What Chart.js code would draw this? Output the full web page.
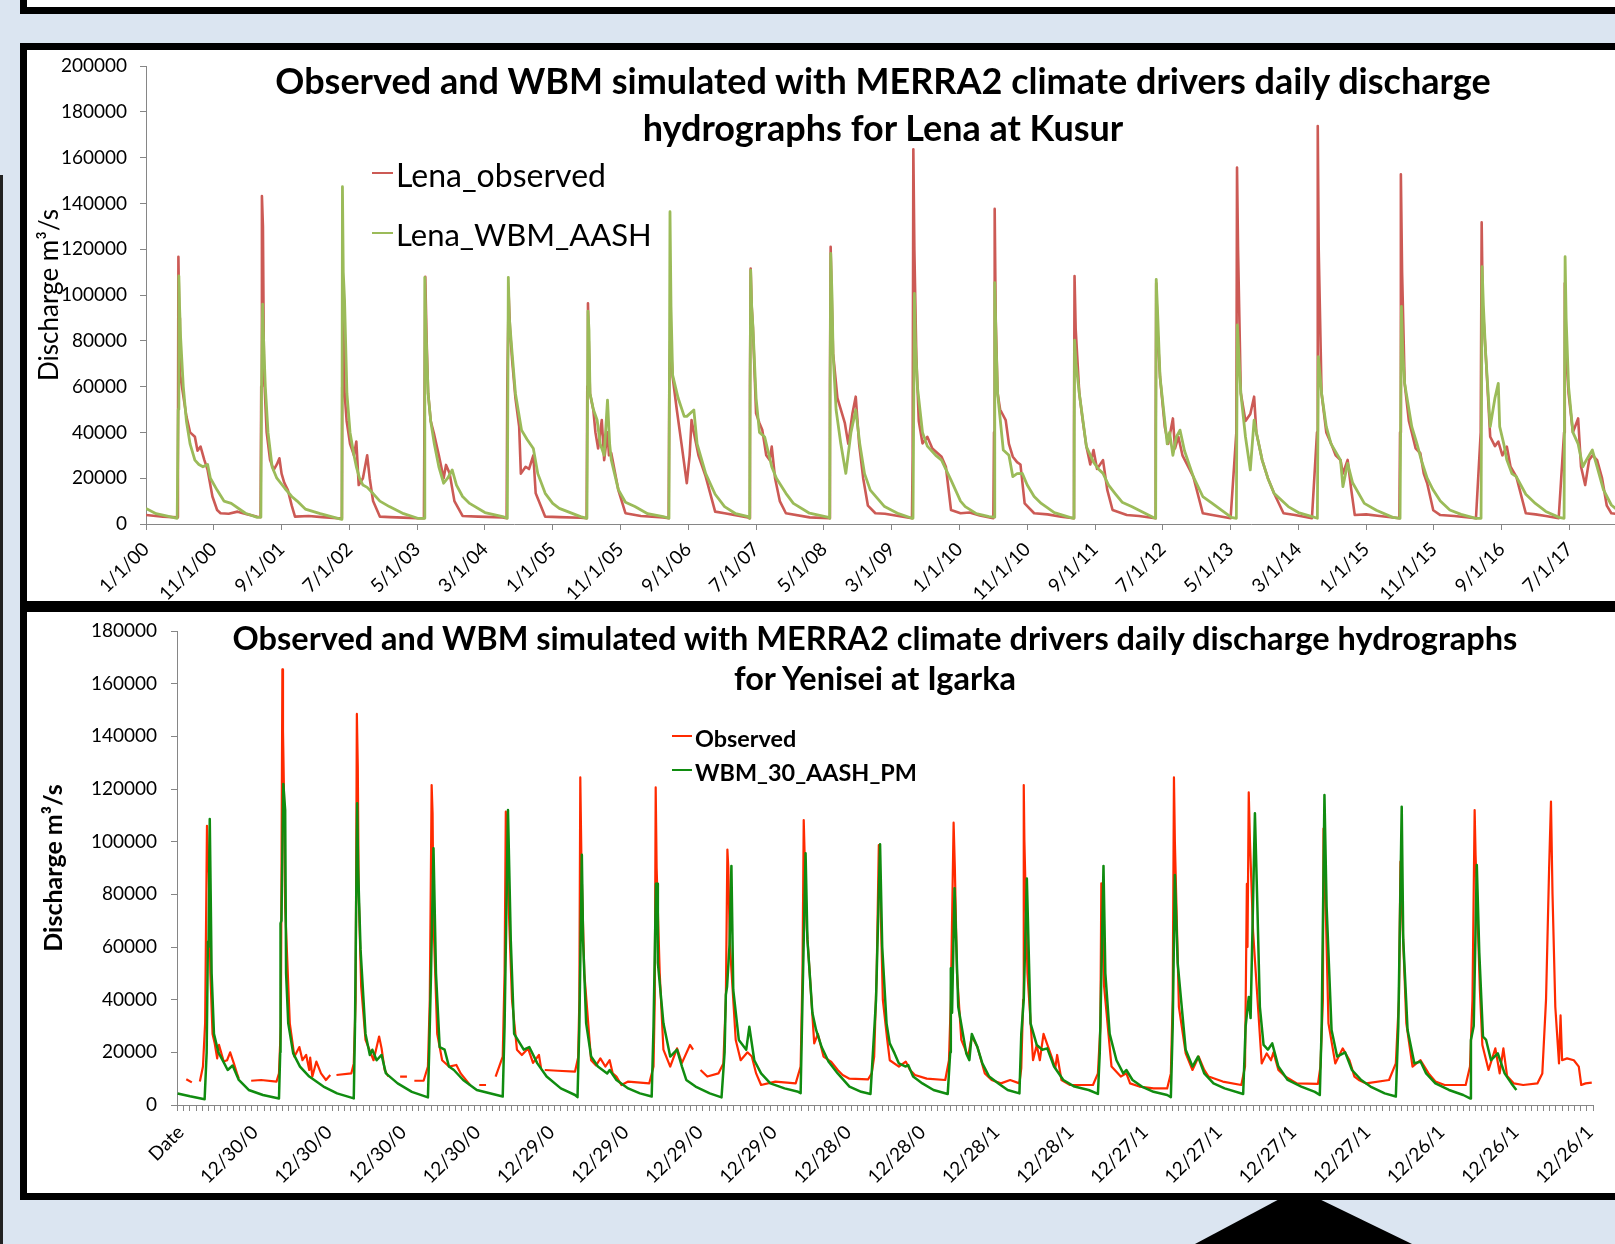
<!DOCTYPE html>
<html>
<head>
<meta charset="utf-8">
<script src="https://cdn.jsdelivr.net/npm/chart.js@4.4.1/dist/chart.umd.min.js"></script>
<style>
  html, body { margin: 0; padding: 0; }
  body { width: 1615px; height: 1244px; background: #dbe5f1; position: relative; overflow: hidden; font-family: Lato, sans-serif; color: #000; }
  .panel { position: absolute; box-sizing: border-box; background: #fff; border: 7px solid #000; }
  .box { position: absolute; }
  .title { position: absolute; text-align: center; font-weight: bold; white-space: nowrap; }
  .leg { position: absolute; white-space: nowrap; line-height: 1.2; }
  .swatch { position: absolute; height: 2px; }
</style>
</head>
<body>
<div class="panel" style="left:20px; top:-40px; width:1700px; height:54px;"></div>
<div class="box" style="left:0; top:175px; width:3px; height:1069px; background:#222;"></div>
<div class="panel" style="left:20px; top:43px; width:1800px; height:565px;"></div>
<div class="panel" style="left:20px; top:605px; width:1800px; height:595px;"></div>
<div class="box" style="left:1195px; top:1195px; width:217px; height:49px; background:#000; clip-path: polygon(92px 0, 116px 0, 217px 49px, 0 49px);"></div>

<div class="box" style="left:27px; top:50px;"><canvas id="lenaChart" width="1712" height="551"></canvas></div>
<div class="box" style="left:27px; top:612px;"><canvas id="yeniseiChart" width="1696" height="581"></canvas></div>

<div class="title" style="left:27px; width:1712px; top:57px; font-size:36px; line-height:47px;">Observed and WBM simulated with MERRA2 climate drivers daily discharge<br>hydrographs for Lena at Kusur</div>
<div class="swatch" style="left:372px; top:172px; width:21px; background:#cc5a55;"></div>
<div class="leg" style="left:396px; top:156px; font-size:32px;">Lena_observed</div>
<div class="swatch" style="left:372px; top:232px; width:21px; background:#9bbb59;"></div>
<div class="leg" style="left:396px; top:216px; font-size:31px;">Lena_WBM_AASH</div>

<div class="title" style="left:27px; width:1696px; top:618px; font-size:32.5px; line-height:40px;">Observed and WBM simulated with MERRA2 climate drivers daily discharge hydrographs<br>for Yenisei at Igarka</div>
<div class="swatch" style="left:672px; top:735px; width:20px; background:#ff2a00;"></div>
<div class="leg" style="left:695px; top:724px; font-size:23.4px; font-weight:bold;">Observed</div>
<div class="swatch" style="left:672px; top:769px; width:20px; background:#108c10;"></div>
<div class="leg" style="left:695px; top:758px; font-size:23.4px; font-weight:bold;">WBM_30_AASH_PM</div>

<script>
// x in months since the first label, y in thousands of m3/s
const lenaTickLabels = ['1/1/00', '11/1/00', '9/1/01', '7/1/02', '5/1/03', '3/1/04', '1/1/05', '11/1/05',
  '9/1/06', '7/1/07', '5/1/08', '3/1/09', '1/1/10', '11/1/10', '9/1/11', '7/1/12', '5/1/13', '3/1/14',
  '1/1/15', '11/1/15', '9/1/16', '7/1/17'];

const lenaObserved = [
  [0,3.9],[2.5,3.2],[4.6,2.9],[4.71,20],[4.78,116.7],[4.9,90],[5.0,66],[5.3,60],[5.96,47],[6.5,40],[7.21,38.1],[7.6,32],[8.05,33.8],[8.6,28],[9.09,23.6],[9.8,12],[10.49,6.1],[11.0,4.7],[12.2,4.5],[13.5,5.4],[15,4.2],[16.4,3.2],
  [16.9,3],[17.0,60],[17.1,143.2],[17.25,130],[17.4,67],[17.8,40],[18.3,28],[18.84,23.6],[19.3,26],[19.68,28.7],[20.0,22],[20.4,18],[20.93,14.8],[21.5,8],[21.98,3.2],[24,3.5],[26,3],[28.2,2.5],
  [28.9,2.5],[28.95,60],[29.0,105],[29.1,90],[29.3,57],[29.6,45],[30.1,35],[30.68,30],[31.03,36],[31.38,17],[32.0,20],[32.63,30],[33.0,20],[33.5,10],[34.51,3.2],[36,3],[38,2.8],[40.0,2.5],
  [41.0,2.5],[41.1,60],[41.2,108],[41.4,80],[41.62,57],[42.0,45],[42.52,39],[43.2,30],[43.91,20],[44.26,25.8],[44.8,22],[45.5,10],[46.7,3.5],[49,3.2],[52.6,2.9],
  [53.2,2.5],[53.3,60],[53.5,100],[53.7,85],[54.01,71.6],[54.5,55],[55.05,42.5],[55.3,22],[56.0,25],[56.5,24],[57.14,30],[57.49,13.4],[58.89,3.2],[61,3],[64.1,2.7],
  [65.0,2.5],[65.1,60],[65.2,96.4],[65.35,75],[65.5,57],[65.99,49.8],[66.3,40],[66.7,33],[67.24,45.4],[67.59,27.9],[68.08,40],[68.3,30],[68.64,30.9],[69.68,14.8],[70.73,4.7],[73,3.5],[76.3,2.9],
  [77.1,2.5],[77.2,60],[77.34,80],[77.45,77.4],[77.69,64.3],[78.3,50],[79.0,35],[79.78,17.8],[80.2,30],[80.48,45.4],[80.82,40],[81.5,30],[82.57,20.7],[83.96,5.4],[85.35,4.7],[88.8,2.9],
  [89.0,2.5],[89.1,60],[89.2,111.6],[89.35,95],[89.53,86],[90.0,48.3],[90.5,44],[90.92,41],[91.5,30],[92.0,28],[92.31,33.8],[92.8,20],[93.5,10],[94.4,4.7],[97.9,2.9],
  [100.8,2.5],[100.9,60],[101.0,121.1],[101.15,100],[101.36,74.5],[102.0,55],[103.1,44],[103.6,35],[104.2,48],[104.7,55.6],[105.2,35],[105.8,20],[106.5,8],[107.6,4.7],[109,4.5],[111,3.5],[113.0,2.5],
  [113.1,30],[113.2,163.6],[113.35,120],[113.64,73.1],[114.0,45],[114.55,35.2],[115.26,38.1],[116,33],[117.36,29.4],[118.0,25],[118.76,6.1],[120.16,4.7],[121.5,5],[123,3.7],[125.0,2.5],
  [125.1,40],[125.2,137.6],[125.35,90],[125.63,57.1],[126.0,50],[126.82,45.4],[127.3,35],[127.87,29.4],[128.5,27],[129.0,26],[129.62,9.0],[131.02,4.7],[133,4.2],[135,3.2],[136.8,2.5],
  [136.9,40],[136.98,108.3],[137.15,85],[137.68,57.1],[138.2,45],[138.73,33.8],[139.3,26],[139.78,32.3],[140.3,24],[141.18,27.9],[141.8,15],[142.59,6.1],[144.69,3.9],[146.5,3.5],[148.9,2.5],
  [148.95,40],[149.03,105.1],[149.2,85],[149.59,64.3],[150.29,42.5],[150.8,35],[151.49,46.1],[151.8,33],[152.3,38],[152.9,30],[154.5,20.7],[155.9,4.7],[157.3,3.9],[160.0,2.5],
  [160.85,40],[160.95,155.7],[161.1,120],[161.51,57.1],[162.2,45],[162.91,48],[163.47,55.6],[163.8,40],[164.66,27.9],[165.5,20],[166.41,13.4],[167.81,4.7],[169.5,3.9],[172.0,2.5],
  [172.75,40],[172.86,173.8],[173.0,120],[173.42,57.1],[174.12,40],[174.82,35.2],[175.5,30],[176.22,27.9],[176.57,22],[177.27,28],[177.8,15],[178.32,3.9],[180,4.2],[182,3.5],[184.9,2.5],
  [185.0,40],[185.12,152.7],[185.3,110],[185.68,61.4],[186.3,45],[186.73,40],[187.3,33],[187.99,30.9],[188.5,22],[189.0,17.8],[189.9,6],[190.94,3.9],[193,3.5],[196.2,2.5],
  [196.9,40],[197.04,131.7],[197.2,95],[197.6,76],[198.3,38.1],[199.0,34],[199.5,36],[200.1,30],[200.75,33.8],[201.3,25],[202.15,20.7],[203.55,4.7],[205,4.2],[206.5,3.5],[208.4,2.5],
  [209.2,40],[209.3,105.1],[209.5,75],[209.86,57.1],[210.5,40],[211.27,46.1],[211.7,25],[212.31,17],[212.9,28],[213.4,30],[214.07,27.9],[214.8,20],[215.5,8],[216.17,4.7],[217.5,4.2]
];

const lenaWbm = [
  [0,6.8],[1.5,4.5],[3,3.5],[4.6,2.5],[4.75,50],[4.85,108.3],[4.95,95],[5.1,81.8],[5.5,60],[5.96,45],[6.5,35],[7.21,27.9],[7.8,26],[8.4,25],[9.09,26],[9.5,20],[10.49,14.8],[11.5,10],[12.58,9.0],[14.67,4.7],[16.41,2.9],
  [16.95,3],[17.05,60],[17.2,96],[17.35,80],[17.6,60],[18.0,40],[18.6,25],[19.3,20],[20.5,15.5],[21.5,12],[22.3,10],[23.5,6.5],[25.7,4.5],[28.3,2.5],
  [28.9,2],[28.98,147.3],[29.1,110],[29.29,97.8],[29.64,57],[30.1,40],[30.68,30],[31.03,25],[31.5,20],[32.0,17],[32.63,16],[33.47,13.4],[34.5,10],[35.9,7.6],[38,4.5],[40.08,2.5],
  [41.05,2.5],[41.13,107.7],[41.3,85],[41.62,57],[42.0,45],[42.52,35.2],[43.2,25],[43.91,17.8],[44.5,20],[45.17,23.6],[45.8,17],[46.7,12],[47.74,9.0],[50,5],[52.62,3.2],
  [53.3,2.5],[53.45,107.7],[53.6,90],[54.0,75],[54.5,57],[55.4,41],[56.2,37],[57.14,33],[57.8,22],[58.89,13.4],[60.0,9],[60.97,6.8],[64.11,3.2],
  [65.05,2.5],[65.2,93],[65.35,84.7],[65.5,57],[66.0,50],[66.55,45.4],[67.0,35],[67.59,30],[68.08,54.1],[68.4,35],[68.64,28],[69.68,15],[70.73,9.5],[72.12,7.6],[74,4.5],[76.3,3.2],
  [77.15,2.5],[77.3,136.4],[77.45,95],[77.69,65],[78.5,55],[79.4,47],[79.78,47],[80.82,49.8],[81.3,35],[82.57,22],[83.96,13],[85.35,7.6],[87,4.5],[88.83,3.2],
  [89.05,2.5],[89.2,110.9],[89.35,95],[89.53,86.2],[90.0,55],[90.5,40],[91.27,38],[92.31,25],[93.0,20],[94.4,13.4],[95.5,9],[97.88,4.7],[100.7,2.9],
  [100.85,2.5],[101.01,118.2],[101.2,100],[101.36,74.5],[101.8,50],[102.5,35],[103.24,22.1],[104.0,40],[104.7,49.8],[105.3,35],[106.0,22],[106.85,14.8],[108.95,7.6],[111,4.5],[113.0,2.5],
  [113.15,2.5],[113.36,100.7],[113.5,80],[113.8,60],[114.55,40],[115.26,34],[116.5,30],[117.36,27.9],[118.76,19.2],[120.16,10],[120.86,7.6],[122.5,4.5],[124.37,3.2],
  [125.1,3],[125.21,105.4],[125.4,80],[125.63,57.1],[126.47,32.3],[127.3,30],[127.87,20.7],[128.5,22],[129.27,22.1],[130.0,17],[131.02,12],[132.07,9.0],[134,5],[136.28,2.9],
  [136.9,2.5],[136.98,80.3],[137.2,70],[137.68,57.1],[138.73,33.8],[139.78,27],[140.5,24],[141.18,22.1],[142.0,17],[142.94,13.4],[144.0,9.5],[145.39,7.6],[148.54,2.9],
  [148.95,2.5],[149.03,106.8],[149.2,95],[149.59,64.3],[150.29,45],[150.65,35],[151.0,40],[151.49,30],[152.0,38],[152.54,41],[153.2,32],[154.5,20.7],[155.9,12],[157.3,9],[160.11,2.9],
  [160.85,2.5],[161.0,86.9],[161.2,75],[161.51,57.1],[162.2,38],[162.91,23.6],[163.47,45.4],[163.8,40],[164.66,27.9],[165.5,20],[166.41,13.4],[168.51,7.6],[170,5],[172.02,3.2],
  [172.8,2.5],[172.95,73.1],[173.2,65],[173.42,57.1],[174.12,42.5],[174.82,35],[176.22,27.9],[176.57,16.3],[177.27,26.5],[178.0,18],[179.73,9.0],[181.5,6],[183.93,2.9],
  [185.0,2.5],[185.2,95],[185.4,75],[185.68,61.4],[186.73,42.5],[187.5,35],[188.14,27.9],[189.0,20],[189.89,14.8],[190.94,10],[192.34,6.1],[194,4.2],[196.2,2.5],
  [196.95,2.5],[197.1,112.4],[197.3,95],[197.6,76],[198.3,42.5],[199.0,55],[199.49,61.4],[199.7,42.5],[200.3,35],[200.75,28],[201.5,22],[202.15,20.7],[203.55,13],[204.96,9.0],[206.5,5.5],[208.46,2.9],
  [209.2,2.5],[209.35,116.7],[209.5,90],[209.86,60],[210.5,40],[211.27,35],[211.96,25],[212.5,28],[213.37,32.3],[214.07,25],[215.0,15],[216.17,8.3],[217.5,5]
];

const yeniseiTickLabels = ['Date', '12/30/0', '12/30/0', '12/30/0', '12/30/0', '12/29/0', '12/29/0', '12/29/0',
  '12/29/0', '12/28/0', '12/28/0', '12/28/1', '12/28/1', '12/27/1', '12/27/1', '12/27/1', '12/27/1',
  '12/26/1', '12/26/1', '12/26/1'];

// null marks a gap in the observed record
const yeniseiObserved = [
  [0.9,9.8],[1.8,8.6],[2.4,null],[3.1,8.9],[3.6,14.6],[3.95,31],[4.25,106],[4.4,96],[4.55,88],[4.8,50],[5.15,27],[5.5,23.4],[5.9,17.7],[6.2,22.8],[6.96,16.5],[7.5,17],[8.0,20],[8.6,15.8],[9.1,12],[9.4,10],[10.4,null],
  [11.4,9.2],[13,9.5],[15.5,8.9],[15.9,12],[16.2,30],[16.45,165.4],[16.55,142],[16.7,120],[16.9,75],[17.65,31],[18.4,18.4],[19.2,22],[19.7,17],[20.3,19],[20.8,13.3],[20.95,18],[21.3,10.8],[21.95,16.5],[22.7,12],[23.5,9.5],[24.2,11.4],[24.7,null],
  [25.2,11.4],[27.6,12],[28.0,15.8],[28.3,40],[28.5,148.5],[28.65,128.5],[28.8,80],[29.2,45],[29.9,24.7],[31.2,17],[32.1,26],[32.5,21.5],[33.0,13.3],[33.6,10.8],[34.5,null],
  [35.5,10.8],[36.6,10.8],[37.0,null],[37.8,9.2],[39.3,9.2],[40.0,14.6],[40.3,40],[40.6,121.5],[40.75,110.8],[40.9,70],[41.5,27],[42.3,17],[43.4,14.6],[44.6,15.2],[45.3,12],[46.8,7.6],[47.5,null],
  [48.3,7.6],[49.4,7.6],[50.0,null],[50.95,10.8],[52.1,18.4],[52.4,50],[52.6,111.4],[52.85,90],[53.6,40],[54.4,21],[55.2,19],[56.2,21.5],[57.0,16],[57.96,19],[58.3,14],[58.6,null],
  [58.9,13.3],[61,13],[63.8,12.7],[64.3,18],[64.5,40],[64.65,124.4],[64.85,90],[65.3,50],[66.4,17],[67.2,15],[67.9,17.7],[68.7,14.6],[69.4,17],[69.9,12],[70.5,10.8],[71.3,7.6],[72.4,8.9],[75.8,8.2],
  [76.5,14.6],[76.7,40],[76.85,120.6],[77.0,90],[77.5,50],[78.1,21],[79.2,14.6],[80.3,21.5],[81.1,16],[82.4,22.8],[82.9,21],[83.3,null],
  [84.1,13.3],[85.2,10.8],[87.0,12],[87.8,15.8],[88.2,40],[88.45,97],[88.6,90],[88.85,61],[89.8,24.7],[90.6,17],[91.7,20],[92.4,18.4],[93.1,12],[93.9,7.6],[96.2,8.9],[99.5,8.2],
  [100.3,14.6],[100.6,50],[100.8,108.2],[101.0,90],[101.3,67],[102.5,23.4],[103.1,27],[104.0,18.4],[105.2,16.5],[106.3,13.3],[107.1,11.4],[108.2,10],[111.2,9.7],
  [111.8,12],[112.2,18.4],[112.6,50],[112.95,98.7],[113.2,80],[113.6,40],[114.3,25],[114.72,17],[116.2,14.6],[117.3,16.5],[118.0,13.3],[118.8,11.4],[120.7,10],[123.7,9.5],
  [124.3,17],[124.6,40],[125.05,107.2],[125.25,90],[125.6,50],[126.3,24.7],[127.4,18.4],[128.0,26],[128.9,22],[130.1,12],[131.2,9.5],[132.7,8.2],[134.2,9.5],[135.7,8.2],
  [136.0,14],[136.3,40],[136.4,121.5],[136.5,100.6],[137.0,50],[137.9,17],[138.5,22.8],[139.0,17],[139.6,27],[140.2,23],[140.9,18.4],[141.5,14],[141.8,19],[142.5,9.5],[143.9,7.6],[147.6,7.6],
  [148.4,12],[148.8,30],[148.95,84.2],[149.1,70],[149.4,45],[150.6,14.6],[152.1,10.8],[153.0,12],[153.6,8.2],[155.1,7],[157.4,6.3],[159.6,6.3],
  [160.2,12],[160.5,40],[160.7,124.4],[160.85,100],[161.5,37.3],[162.6,19.6],[163.7,13.3],[164.7,18.4],[165.6,13.3],[166.3,10.8],[168.6,8.9],[171.6,7.6],
  [172.2,14.6],[172.5,84],[172.6,60],[172.8,118.7],[173.0,100],[173.5,66],[174.9,15.8],[175.7,19.6],[176.4,17],[176.8,20],[177.6,13.3],[178.7,10.8],[180.6,8.2],[184.0,8],
  [184.4,14.6],[184.8,40],[184.9,105],[185.1,90],[185.7,31],[186.8,15.8],[188.0,21.5],[189.1,17],[189.9,10.8],[190.6,9.5],[191.8,8.2],[195.5,9.5],
  [196.6,15.8],[197.1,40],[197.35,92.4],[197.5,80],[198.3,31],[199.3,14.6],[200.6,17],[201.9,12],[203.0,8.9],[204.5,7.6],[207.9,7.6],
  [208.6,14.6],[209.0,40],[209.35,112],[209.5,95],[210.2,43.7],[210.6,22.8],[211.6,13.3],[212.7,21.5],[213.4,12],[214.0,21.5],[214.6,11],[215.7,8.2],[217.2,7.6],[219.5,8.2],
  [220.3,12],[220.9,40],[221.4,90],[221.7,115.2],[221.95,80],[222.4,37.3],[223.0,15.8],[223.25,34],[223.5,17],[224.3,17.7],[225.4,17],[226.2,14.6],[226.6,7.6],[227.3,8.2],[228.3,8.5]
];

const yeniseiWbm = [
  [-0.5,4.4],[1.5,3.3],[3.87,2.2],[4.2,20],[4.4,62],[4.5,60],[4.7,108.6],[4.85,80],[5.0,50],[5.38,27],[6.1,20],[6.9,16.5],[7.6,13.3],[8.4,15],[9.4,9.5],[11.0,5.7],[13.3,3.8],[15.9,2.5],
  [16.1,20],[16.15,69],[16.3,70],[16.6,121.9],[16.9,112],[17.05,50],[17.4,31],[18.2,19.6],[19.3,14.6],[20.8,10.8],[23.1,7],[25.3,4.4],[28.0,2.5],
  [28.2,30],[28.55,114.6],[28.7,90],[29.1,58.9],[29.9,27],[30.6,19],[31.0,21],[31.7,17],[32.5,19],[33.2,12],[35.1,8.2],[37.4,5],[40.0,2.9],
  [40.2,20],[40.5,50],[40.9,97.5],[41.3,50],[41.9,22],[42.7,21],[43.4,14.6],[44.2,13.3],[45.7,9.5],[47.9,5.7],[52.1,3.2],
  [52.4,30],[52.95,112],[53.4,62.7],[53.95,27],[55.5,21],[56.4,22],[57.7,15.8],[59.2,10.8],[61.5,6.3],[63.8,3.8],[64.2,3],
  [64.5,30],[64.9,95],[65.1,62.7],[65.6,31],[66.4,18.4],[67.5,14.6],[69.0,12],[69.4,13.3],[70.5,9.5],[72.4,6.3],[74.3,4.4],[76.2,3.2],
  [76.5,30],[76.9,84],[77.0,72],[77.1,84],[77.2,54],[78.1,31],[79.2,18.4],[80.3,21],[81.1,14.6],[81.8,9.5],[83.3,7],[85.6,4.4],[87.5,2.9],
  [88.0,20],[88.2,41.8],[88.4,45],[88.8,61],[89.1,90.8],[89.4,43.7],[90.3,24.7],[91.5,21],[92.0,29.7],[92.8,17],[93.9,12],[95.4,8.2],[97.7,6.3],[99.9,5],[100.3,4.5],
  [100.6,40],[101.1,95.6],[101.4,62.7],[102.2,35],[102.8,28.5],[103.7,22],[104.8,16.5],[106.3,12],[108.2,7],[110.1,5],[111.6,4.2],
  [112.5,40],[113.15,99],[113.5,60],[114.2,31],[114.72,23.4],[115.5,19.6],[116.2,15.8],[117.3,14.6],[117.7,15.2],[118.5,10.8],[120.0,8.2],[121.8,5.7],[124.1,4.2],
  [124.5,20],[124.6,51.9],[124.8,35],[125.2,82.3],[125.8,37.3],[127.1,19.6],[127.6,17],[128.0,27],[128.9,22],[129.7,15.8],[130.8,10.8],[132.3,8.2],[133.8,5.7],[135.7,4.4],
  [136.0,27],[136.4,40],[136.9,86],[137.5,31],[138.5,22.8],[139.4,21],[140.2,21.5],[141.3,14.6],[142.8,9.5],[144.6,7],[146.9,5.7],[148.4,4.2],
  [148.7,20],[148.8,31],[149.3,90.8],[149.6,50],[150.3,27],[151.4,17],[152.5,12],[153.0,13.3],[154.0,9.5],[155.5,7],[157.4,5],[159.6,3.8],[160.2,3],
  [160.5,30],[160.85,87.3],[161.3,54],[162.6,21],[163.7,14.6],[164.6,18.4],[165.6,12],[167.1,8.2],[168.9,6.3],[171.9,4.2],
  [172.3,30],[172.8,41],[173.1,33],[173.8,110.8],[174.2,75.3],[174.6,37.3],[175.2,22.8],[175.9,21],[176.6,23.4],[177.6,14.6],[179.1,9.5],[181.3,7],[183.5,5],[184.3,3.8],
  [184.6,30],[185.05,117.7],[185.4,75.3],[186.2,28.5],[187.1,18.4],[188.4,20],[189.5,13.3],[191.0,9.5],[192.5,7],[194.8,4.4],[196.6,3.2],
  [197.0,30],[197.55,113.3],[197.8,62.7],[198.5,28.5],[199.6,15.8],[200.6,16.5],[201.5,12],[203.0,8.2],[205.2,5.7],[207.5,3.8],[208.6,2.5],
  [208.75,24.7],[209.2,30],[209.7,91.1],[210.1,58],[210.7,26],[211.2,24.7],[212.0,17],[213.1,19.6],[214.2,12],[215.3,8.2],[216.1,5.7]
];

const toPoints = (rows) => rows.map(([m, v]) => ({ x: m, y: v === null ? null : v * 1000 }));

const axisGrey = '#868686';
const tickFont = { family: 'Lato', size: 19 };

const lineSet = (label, rows, color, width, order) => ({
  label: label,
  data: toPoints(rows),
  borderColor: color,
  backgroundColor: color,
  borderWidth: width,
  borderJoinStyle: 'round',
  pointRadius: 0,
  tension: 0,
  spanGaps: false,
  order: order,
});

// fixed axis width, and keep the tick padding from pushing the plot down
const fixYAxis = (width) => (s) => {
  s.width = width;
  s.paddingTop = 4;
  s.paddingBottom = 4;
};

// Lena at Kusur
new Chart(document.getElementById('lenaChart'), {
  type: 'line',
  data: {
    datasets: [
      lineSet('Lena_observed', lenaObserved, '#cc5a55', 2.6, 1),
      lineSet('Lena_WBM_AASH', lenaWbm, '#9bbb59', 2.8, 0),
    ],
  },
  options: {
    responsive: false,
    animation: false,
    devicePixelRatio: 1,
    layout: { padding: { top: 16, right: 120, bottom: 0, left: 0 } },
    plugins: { legend: { display: false }, tooltip: { enabled: false } },
    scales: {
      x: {
        type: 'linear',
        min: 0,
        max: 217.3,
        afterBuildTicks: (s) => { s.ticks = lenaTickLabels.map((t, i) => ({ value: i * 10 })); },
        afterFit: (s) => { s.height = 77; },
        ticks: { autoSkip: false, minRotation: 45, maxRotation: 45, padding: 8, color: '#000', font: tickFont,
          callback: (v, i) => lenaTickLabels[i] },
        grid: { drawOnChartArea: false, tickLength: 6, color: axisGrey },
        border: { color: axisGrey, width: 1 },
      },
      y: {
        min: 0,
        max: 200000,
        afterFit: fixYAxis(119),
        ticks: { stepSize: 20000, padding: 13, color: '#000', font: tickFont, callback: (v) => String(v) },
        title: { display: true, text: 'Discharge m³/s', color: '#000', font: { family: 'Lato', size: 26 }, padding: { top: 7, bottom: 0 } },
        grid: { drawOnChartArea: false, tickLength: 6, color: axisGrey },
        border: { color: axisGrey, width: 1 },
      },
    },
  },
});

// Yenisei at Igarka
new Chart(document.getElementById('yeniseiChart'), {
  type: 'line',
  data: {
    datasets: [
      lineSet('Observed', yeniseiObserved, '#ff2a00', 2.2, 1),
      lineSet('WBM_30_AASH_PM', yeniseiWbm, '#108c10', 2.5, 0),
    ],
  },
  options: {
    responsive: false,
    animation: false,
    devicePixelRatio: 1,
    layout: { padding: { top: 19, right: 130, bottom: 0, left: 0 } },
    plugins: { legend: { display: false }, tooltip: { enabled: false } },
    scales: {
      x: {
        type: 'linear',
        min: -0.6,
        max: 228.5,
        afterBuildTicks: (s) => {
          s.ticks = Array.from({ length: yeniseiTickLabels.length * 12 - 11 }, (_, i) => ({ value: i }));
        },
        afterFit: (s) => { s.height = 88; },
        ticks: { autoSkip: false, minRotation: 45, maxRotation: 45, padding: 10, color: '#000', font: tickFont,
          callback: (v, i) => (i % 12 === 0 ? yeniseiTickLabels[i / 12] : '') },
        grid: { drawOnChartArea: false, offset: true, tickLength: 6, color: axisGrey },
        border: { color: axisGrey, width: 1 },
      },
      y: {
        min: 0,
        max: 180000,
        afterFit: fixYAxis(150),
        ticks: { stepSize: 20000, padding: 14, color: '#000', font: tickFont, callback: (v) => String(v) },
        title: { display: true, text: 'Discharge m³/s', color: '#000', font: { family: 'Lato', size: 25, weight: 'bold' }, padding: { top: 12, bottom: 0 } },
        grid: { drawOnChartArea: false, tickLength: 6, color: axisGrey },
        border: { color: axisGrey, width: 1 },
      },
    },
  },
});
</script>
</body>
</html>
